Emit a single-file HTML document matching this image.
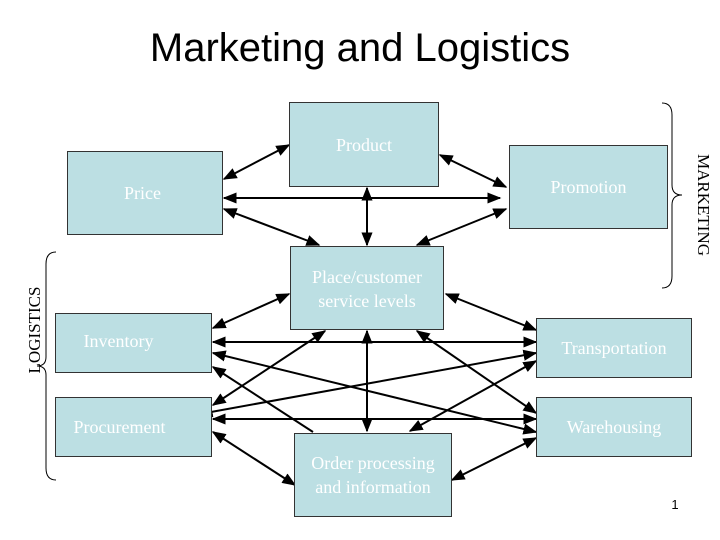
<!DOCTYPE html>
<html><head><meta charset="utf-8"><style>
body{margin:0;width:720px;height:540px;background:#fff;overflow:hidden;position:relative;font-family:"Liberation Serif",serif}
.t{position:absolute;left:0;width:720px;top:26px;text-align:center;font:40px "Liberation Sans",sans-serif;color:#000}
.b{position:absolute;background:#bcdfe3;border:1px solid #333;box-sizing:border-box;color:#fff;font-size:18px;line-height:24px;text-align:center;display:flex;align-items:center;justify-content:center}
</style></head><body>
<div class="t">Marketing and Logistics</div>
<svg width="720" height="540" style="position:absolute;left:0;top:0">
<defs><marker id="a" viewBox="0 0 10 10" refX="9" refY="5" markerWidth="7" markerHeight="7" orient="auto-start-reverse"><path d="M0,1L10,5L0,9z" fill="#000"/></marker></defs>
<g stroke="#000" stroke-width="2" marker-start="url(#a)" marker-end="url(#a)">
<line x1="289" y1="145" x2="224" y2="179"/>
<line x1="440" y1="155" x2="506" y2="187"/>
<line x1="224" y1="198" x2="500" y2="198"/>
<line x1="367" y1="188" x2="367" y2="245"/>
<line x1="224" y1="209" x2="319" y2="245"/>
<line x1="506" y1="209" x2="417" y2="245"/>
<line x1="289" y1="294" x2="213" y2="328"/>
<line x1="446" y1="294" x2="536" y2="330"/>
<line x1="213" y1="342" x2="536" y2="342"/>
<line x1="213" y1="353" x2="536" y2="432"/>
<line x1="325" y1="331" x2="213" y2="405"/>
<line x1="367" y1="331" x2="367" y2="431"/>
<line x1="417" y1="331" x2="536" y2="413"/>
<line x1="536" y1="353" x2="200" y2="414"/>
<line x1="536" y1="361" x2="410" y2="431"/>
<line x1="213" y1="419" x2="536" y2="419"/>
<line x1="213" y1="432" x2="295" y2="485"/>
<line x1="536" y1="438" x2="452" y2="480"/>
</g>
<line x1="213" y1="367" x2="313" y2="432" stroke="#000" stroke-width="2" marker-start="url(#a)"/>
<path d="M662,103 Q672,103 672,115 L672,185 Q672,195 682,195 Q672,195 672,205 L672,276 Q672,288 662,288" fill="none" stroke="#000" stroke-width="1"/>
<path d="M56,252 Q46,252 46,264 L46,357 Q46,366 37,366 Q46,366 46,375 L46,468 Q46,480 56,480" fill="none" stroke="#000" stroke-width="1"/>
<text x="0" y="0" transform="translate(698,205) rotate(90)" text-anchor="middle" font-family="Liberation Serif" font-size="17">MARKETING</text>
<text x="0" y="0" transform="translate(40,330) rotate(-90)" text-anchor="middle" font-family="Liberation Serif" font-size="17">LOGISTICS</text>
<text x="675" y="509" text-anchor="middle" font-family="Liberation Sans" font-size="13">1</text>
</svg>
<div class="b" style="left:289px;top:102px;width:150px;height:85px;align-items:flex-start;padding-top:30px">Product</div>
<div class="b" style="left:67px;top:151px;width:156px;height:84px;padding-right:5px">Price</div>
<div class="b" style="left:509px;top:145px;width:159px;height:84px;padding-top:0">Promotion</div>
<div class="b" style="left:290px;top:246px;width:154px;height:84px;align-items:flex-start;padding-top:18px">Place/customer<br>service levels</div>
<div class="b" style="left:55px;top:313px;width:157px;height:60px;align-items:flex-start;padding-top:15px;padding-right:30px">Inventory</div>
<div class="b" style="left:536px;top:318px;width:156px;height:60px;padding-top:0">Transportation</div>
<div class="b" style="left:55px;top:397px;width:157px;height:60px;padding-top:0;padding-right:28px">Procurement</div>
<div class="b" style="left:536px;top:397px;width:156px;height:60px;padding-top:0">Warehousing</div>
<div class="b" style="left:294px;top:433px;width:158px;height:84px;align-items:flex-start;padding-top:17px">Order processing<br>and information</div>
</body></html>
